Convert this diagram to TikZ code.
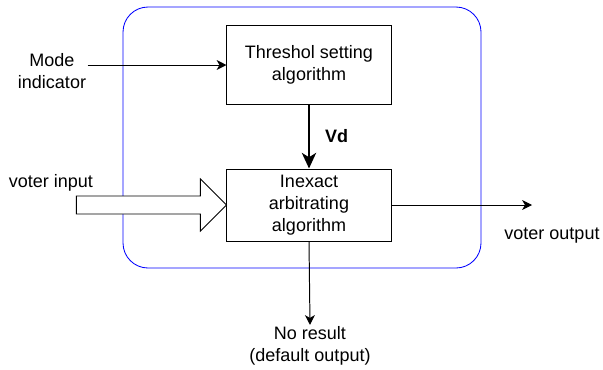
\documentclass[tikz,border=0pt]{standalone}
\usepackage{fontspec}
\setmainfont{Liberation Sans}
\usetikzlibrary{arrows.meta}
\begin{document}
\begin{tikzpicture}[x=0.025cm,y=-0.025cm]
\tikzstyle{block} = [draw, line width=0.7pt, minimum width=4.1cm, align=center,
                     inner sep=0, font=\fontsize{12.8}{15.6}\selectfont]
\tikzstyle{lbl} = [align=center, inner sep=1pt, font=\fontsize{12.8}{15.6}\selectfont]
\tikzstyle{arr} = [line width=0.7pt, -{Stealth[length=7pt,width=7pt,inset=2pt]}]
\useasboundingbox (0,0) rectangle (603,369);
% voter frame
\draw [blue, line width=0.6pt, rounded corners=0.625cm] (123,7) rectangle (481,268);
\node [block, minimum height=1.95cm] (thr) at (309,65) {Threshol setting\\algorithm};
\node [block, minimum height=1.8cm] (arb) at (309,205) {Inexact\\arbitrating\\algorithm};
\node [lbl] (mode) at (52,71) {Mode\\indicator};
\node [lbl] (vin) at (51,183) {voter input};
\node [lbl] (vout) at (552,236) {voter output};
\node [lbl] (nores) at (310,346) {No result\\(default output)};
\coordinate (outend) at (532,205);
\draw [arr] (mode.east |- thr.west) -- (thr.west);
\draw [line width=2pt, -{Stealth[length=11pt,width=10pt,inset=3pt]}] (thr) -- (arb)
      node [midway, right=0.25cm, font=\fontsize{12.8}{15.6}\selectfont\bfseries] {Vd};
\draw [arr] (arb.east) -- (outend);
\draw [arr] (arb.south) -- (nores.north);
% wide input arrow
\draw [line width=0.7pt, fill=white] (arb.west) -- ++(-26,-26) -- ++(0,17) -- ++(-124,0)
      -- ++(0,18) -- ++(124,0) -- ++(0,17) -- cycle;
\end{tikzpicture}
\end{document}
